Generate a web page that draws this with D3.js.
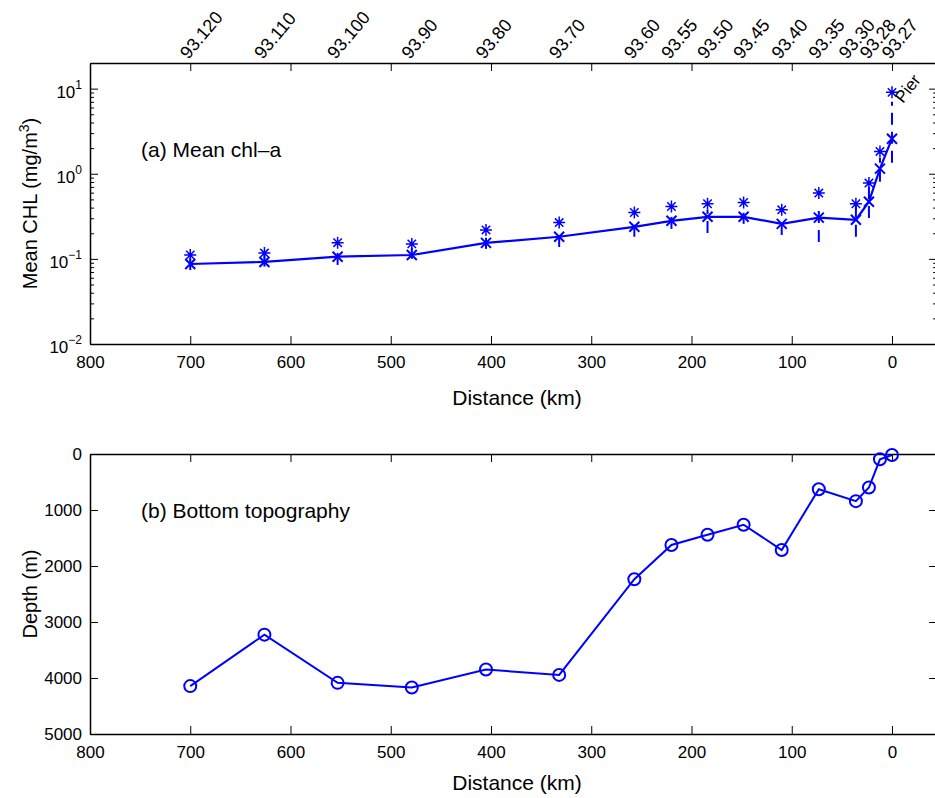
<!DOCTYPE html>
<html>
<head>
<meta charset="utf-8">
<script src="https://cdn.jsdelivr.net/npm/d3@7"></script>
<style>
  html, body { margin: 0; padding: 0; background: #fff; }
  svg { display: block; font-family: "Liberation Sans", Arial, Helvetica, sans-serif; }
</style>
</head>
<body>
<svg id="chart" width="935" height="798"></svg>
<script>
// ---------------- DATA ----------------
const distanceKm = [700, 626, 553, 479, 405, 332, 257, 220, 184, 148, 110, 73, 36, 23, 12, 0];
const meanChl    = [0.087, 0.092, 0.106, 0.111, 0.154, 0.182, 0.238, 0.280, 0.312, 0.312, 0.258, 0.305, 0.288, 0.469, 1.15, 2.58];
const starChl    = [0.111, 0.117, 0.155, 0.150, 0.219, 0.267, 0.351, 0.412, 0.444, 0.460, 0.377, 0.593, 0.444, 0.777, 1.83, 9.04];
const errLow     = [0.074, 0.081, 0.085, 0.100, 0.131, 0.138, 0.182, 0.225, 0.202, 0.258, 0.191, 0.158, 0.182, 0.303, 0.805, 1.35];
const errHigh    = [0.106, 0.118, 0.121, 0.135, 0.177, 0.219, 0.272, 0.312, 0.377, 0.348, 0.296, 0.409, 0.420, 0.703, 1.54, 7.03];
const depthM     = [4145, 3226, 4087, 4170, 3849, 3945, 2236, 1625, 1441, 1263, 1714, 629, 842, 599, 95, 18];

const stationLabels = ["93.120", "93.110", "93.100", "93.90", "93.80", "93.70", "93.60", "93.55",
                       "93.50", "93.45", "93.40", "93.35", "93.30", "93.28", "93.27"];
const stationLabelKm = [700, 626, 553, 479, 405, 332, 257, 220, 184, 148, 110, 73, 43, 22, 0];

const xTicks = [800, 700, 600, 500, 400, 300, 200, 100, 0];
const chlMajorTicks = [0.01, 0.1, 1, 10];
const chlTickExp = ["\u22122", "\u22121", "0", "1"];
const depthTicks = [0, 1000, 2000, 3000, 4000, 5000];

// ---------------- LAYOUT ----------------
const svg = d3.select("#chart");
const BLUE = "#0000ff";
const left = 90, right = 937.1;
const aTop = 63, aBot = 344;
const bTop = 454, bBot = 734;

const x = d3.scaleLinear().domain([800, -45]).range([left, right]);
const yA = d3.scaleLog().domain([0.01, 20]).range([aBot, aTop]);
const yB = d3.scaleLinear().domain([0, 5000]).range([bTop, bBot]);

function styleAxis(g) {
  g.selectAll("path.domain").attr("stroke", "#000").attr("stroke-width", 1.5);
  g.selectAll(".tick line").attr("stroke", "#000").attr("stroke-width", 1);
  g.selectAll(".tick text").attr("fill", "#000").attr("font-size", 17)
    .attr("font-family", '"Liberation Sans", Arial, sans-serif');
}

function drawXAxes(top, bot, labelBaseline) {
  const gb = svg.append("g").attr("transform", `translate(0,${bot})`)
    .call(d3.axisBottom(x).tickValues(xTicks).tickSize(-8).tickSizeOuter(0).tickPadding(12).tickFormat(d3.format("d")));
  styleAxis(gb);
  const gt = svg.append("g").attr("transform", `translate(0,${top})`)
    .call(d3.axisTop(x).tickValues(xTicks).tickSize(-8).tickSizeOuter(0).tickFormat(""));
  styleAxis(gt);
  svg.append("text").attr("x", 517).attr("y", labelBaseline).attr("text-anchor", "middle")
    .attr("font-size", 21).text("Distance (km)");
}

// ---------------- PANEL A ----------------
drawXAxes(aTop, aBot, 405);

const minorTicks = [];
for (let e = -2; e <= 1; e++) for (let m = 2; m <= 9; m++) {
  const v = m * Math.pow(10, e);
  if (v <= 20) minorTicks.push(v);
}
const gAL = svg.append("g").attr("transform", `translate(${left},0)`)
  .call(d3.axisLeft(yA).tickValues(chlMajorTicks).tickSize(-8).tickSizeOuter(0).tickFormat(""));
styleAxis(gAL);
svg.append("g").attr("transform", `translate(${left},0)`)
  .call(d3.axisLeft(yA).tickValues(minorTicks).tickSize(-4).tickSizeOuter(0).tickFormat(""))
  .call(g => { g.select("path.domain").remove(); styleAxis(g); });
const gAR = svg.append("g").attr("transform", `translate(${right},0)`)
  .call(d3.axisRight(yA).tickValues(chlMajorTicks).tickSize(-8).tickSizeOuter(0).tickFormat(""));
styleAxis(gAR);
svg.append("g").attr("transform", `translate(${right},0)`)
  .call(d3.axisRight(yA).tickValues(minorTicks).tickSize(-4).tickSizeOuter(0).tickFormat(""))
  .call(g => { g.select("path.domain").remove(); styleAxis(g); });

chlMajorTicks.forEach((v, i) => {
  const t = svg.append("text").attr("x", 82).attr("y", yA(v) + 9)
    .attr("text-anchor", "end").attr("font-size", 17);
  t.append("tspan").text("10");
  t.append("tspan").attr("dy", -9).attr("font-size", 12).text(chlTickExp[i]);
});

const ylA = svg.append("text").attr("transform", `translate(37,${(aTop + aBot) / 2}) rotate(-90)`)
  .attr("text-anchor", "middle").attr("font-size", 20);
ylA.append("tspan").text("Mean CHL (mg/m");
ylA.append("tspan").attr("dy", -8).attr("font-size", 14).text("3");
ylA.append("tspan").attr("dy", 8).text(")");

svg.append("text").attr("x", 141).attr("y", 157).attr("font-size", 21).text("(a) Mean chl\u2013a");

const gA = svg.append("g");
distanceKm.forEach((d, i) => {
  gA.append("line").attr("x1", x(d)).attr("x2", x(d))
    .attr("y1", yA(errLow[i])).attr("y2", yA(errHigh[i]))
    .attr("stroke", BLUE).attr("stroke-width", 2).attr("stroke-dasharray", "12,7");
});
gA.append("path").datum(distanceKm.map((d, i) => [d, meanChl[i]]))
  .attr("fill", "none").attr("stroke", BLUE).attr("stroke-width", 2.2)
  .attr("d", d3.line().x(p => x(p[0])).y(p => yA(p[1])));
distanceKm.forEach((d, i) => {
  const cx = x(d), cy = yA(meanChl[i]), s = 5;
  gA.append("path").attr("d", `M${cx - s},${cy - s}L${cx + s},${cy + s}M${cx - s},${cy + s}L${cx + s},${cy - s}`)
    .attr("stroke", BLUE).attr("stroke-width", 2).attr("fill", "none");
});
distanceKm.forEach((d, i) => {
  const cx = x(d), cy = yA(starChl[i]), s = 6, q = 4.2;
  gA.append("path").attr("d",
    `M${cx - s},${cy}L${cx + s},${cy}M${cx},${cy - s}L${cx},${cy + s}` +
    `M${cx - q},${cy - q}L${cx + q},${cy + q}M${cx - q},${cy + q}L${cx + q},${cy - q}`)
    .attr("stroke", BLUE).attr("stroke-width", 1.5).attr("fill", "none");
});

stationLabels.forEach((lab, i) => {
  svg.append("text")
    .attr("transform", `translate(${x(stationLabelKm[i]) - 2},60) rotate(-50)`)
    .attr("font-size", 18).text(lab);
});
svg.append("text").attr("transform", `translate(${x(0) + 11},104) rotate(-52)`)
  .attr("font-size", 17).text("Pier");

// ---------------- PANEL B ----------------
drawXAxes(bTop, bBot, 790);
const gBL = svg.append("g").attr("transform", `translate(${left},0)`)
  .call(d3.axisLeft(yB).tickValues(depthTicks).tickSize(-8).tickSizeOuter(0).tickPadding(8).tickFormat(d3.format("d")));
styleAxis(gBL);
const gBR = svg.append("g").attr("transform", `translate(${right},0)`)
  .call(d3.axisRight(yB).tickValues(depthTicks).tickSize(-8).tickSizeOuter(0).tickFormat(""));
styleAxis(gBR);

svg.append("text").attr("transform", `translate(37,${(bTop + bBot) / 2}) rotate(-90)`)
  .attr("text-anchor", "middle").attr("font-size", 20).text("Depth (m)");
svg.append("text").attr("x", 141).attr("y", 518).attr("font-size", 21).text("(b) Bottom topography");

const gB = svg.append("g");
gB.append("path").datum(distanceKm.map((d, i) => [d, depthM[i]]))
  .attr("fill", "none").attr("stroke", BLUE).attr("stroke-width", 2)
  .attr("d", d3.line().x(p => x(p[0])).y(p => yB(p[1])));
gB.selectAll("circle").data(distanceKm).join("circle")
  .attr("cx", d => x(d)).attr("cy", (d, i) => yB(depthM[i])).attr("r", 6)
  .attr("fill", "none").attr("stroke", BLUE).attr("stroke-width", 2);
</script>
</body>
</html>
